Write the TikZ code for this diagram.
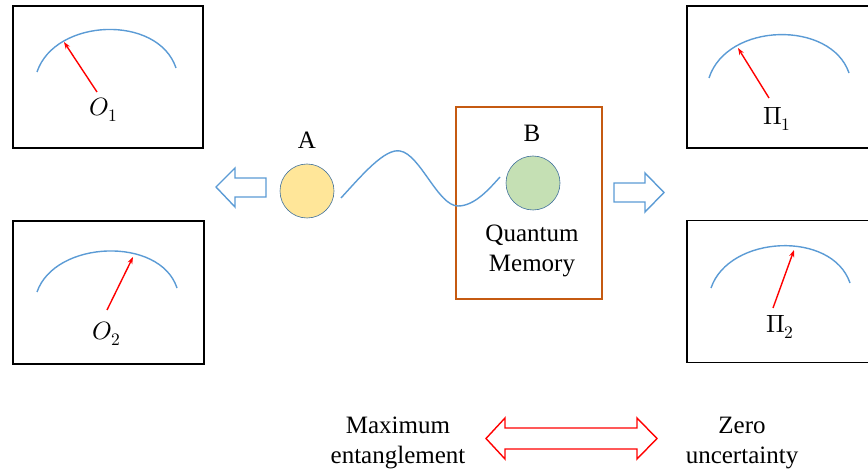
\documentclass[tikz,border=0pt]{standalone}
\usepackage{fontspec}
\usepackage{unicode-math}
\setmainfont{Liberation Serif}
\setmathfont{Latin Modern Math}
\usetikzlibrary{arrows.meta}
\definecolor{arcblue}{RGB}{91,155,213}
\definecolor{memorange}{RGB}{197,90,17}
\definecolor{yelfill}{RGB}{255,230,153}
\definecolor{grnfill}{RGB}{197,224,180}
\definecolor{circline}{RGB}{65,113,156}
\tikzset{
  meterbox/.style={draw=black,line width=1.8pt,minimum width=190pt,minimum height=142pt,inner sep=0pt},
  dial/.style={draw=arcblue,line width=1.4pt},
  needle/.style={draw=red,line width=1.4pt,-{Stealth[length=7pt,width=5pt]}},
  meterlabel/.style={font=\fontsize{25}{30}\selectfont,inner sep=1pt},
  txt/.style={font=\fontsize{25}{30}\selectfont,align=center,inner sep=0pt},
  particle/.style={circle,draw=circline,line width=0.6pt,minimum size=54pt,inner sep=0pt},
  blockarrow/.style={draw=arcblue,line width=1.4pt,fill=white},
  bigarrow/.style={draw=red,line width=1.4pt,fill=white}
}
\begin{document}
\begin{tikzpicture}[x=1pt,y=-1pt]
\useasboundingbox (0,0) rectangle (868,473);
% meter boxes
\node[meterbox] (m1) at (108,77) {};
\node[meterbox,minimum width=191pt,minimum height=143pt] (m2) at (108.5,292.5) {};
\node[meterbox,minimum width=200pt] (m3) at (787,77) {};
\node[meterbox,minimum width=200pt] (m4) at (787,291.5) {};
% dials
\draw[dial] (37,72) .. controls (55,18) and (158,14) .. (176,68);
\draw[dial] (37,292) .. controls (55,240) and (160,236) .. (177,288);
\draw[dial] (709,78) .. controls (727,22) and (831,20) .. (849,73);
\draw[dial] (711,288) .. controls (729,235) and (832,230) .. (850,283);
% needle labels
\node[meterlabel] (o1) at (104,110) {$O_1$};
\node[meterlabel] (o2) at (107,334) {$O_2$};
\node[meterlabel] (p1) at (777,119) {$\Pi_1$};
\node[meterlabel] (p2) at (780,327) {$\Pi_2$};
% needles
\coordinate (t1) at (64,42);
\coordinate (t2) at (133,257);
\coordinate (t3) at (738,48);
\coordinate (t4) at (794,250);
\draw[needle] (97,92) -- (t1);
\draw[needle] (107,310) -- (t2);
\draw[needle] (769,98) -- (t3);
\draw[needle] (773,308) -- (t4);
% quantum memory box
\node[draw=memorange,line width=1.4pt,minimum width=146pt,minimum height=192pt,inner sep=0pt] (qm) at (529,203) {};
% particles
\node[particle,fill=yelfill] (A) at (307,191) {};
\node[particle,fill=grnfill] (B) at (533,183) {};
\node[txt] (Alab) at (307,140) {A};
\node[txt] (Blab) at (532,133) {B};
\node[txt] (qmlab) at (532,251) {Quantum\\Memory};
% entanglement wave
\draw[dial] (341,198) .. controls (362,175) and (385,148) .. (400,151)
  .. controls (420,154) and (438,206) .. (458,206)
  .. controls (475,206) and (490,188) .. (500,177);
% block arrows
\draw[blockarrow] (216,187) -- (235,168) -- (235,178) -- (266,178) -- (266,197) -- (235,197) -- (235,207) -- cycle;
\draw[blockarrow] (664,192.5) -- (645,173) -- (645,183) -- (614,183) -- (614,202) -- (645,202) -- (645,212) -- cycle;
% bottom
\node[txt] (maxent) at (398,443) {Maximum\\entanglement};
\node[txt] (zero) at (742,443) {Zero\\uncertainty};
\draw[bigarrow] (486,438.5) -- (505,418) -- (505,428) -- (637,428) -- (637,418) -- (657,438.5) -- (637,459) -- (637,449) -- (505,449) -- (505,459) -- cycle;
\end{tikzpicture}
\end{document}
